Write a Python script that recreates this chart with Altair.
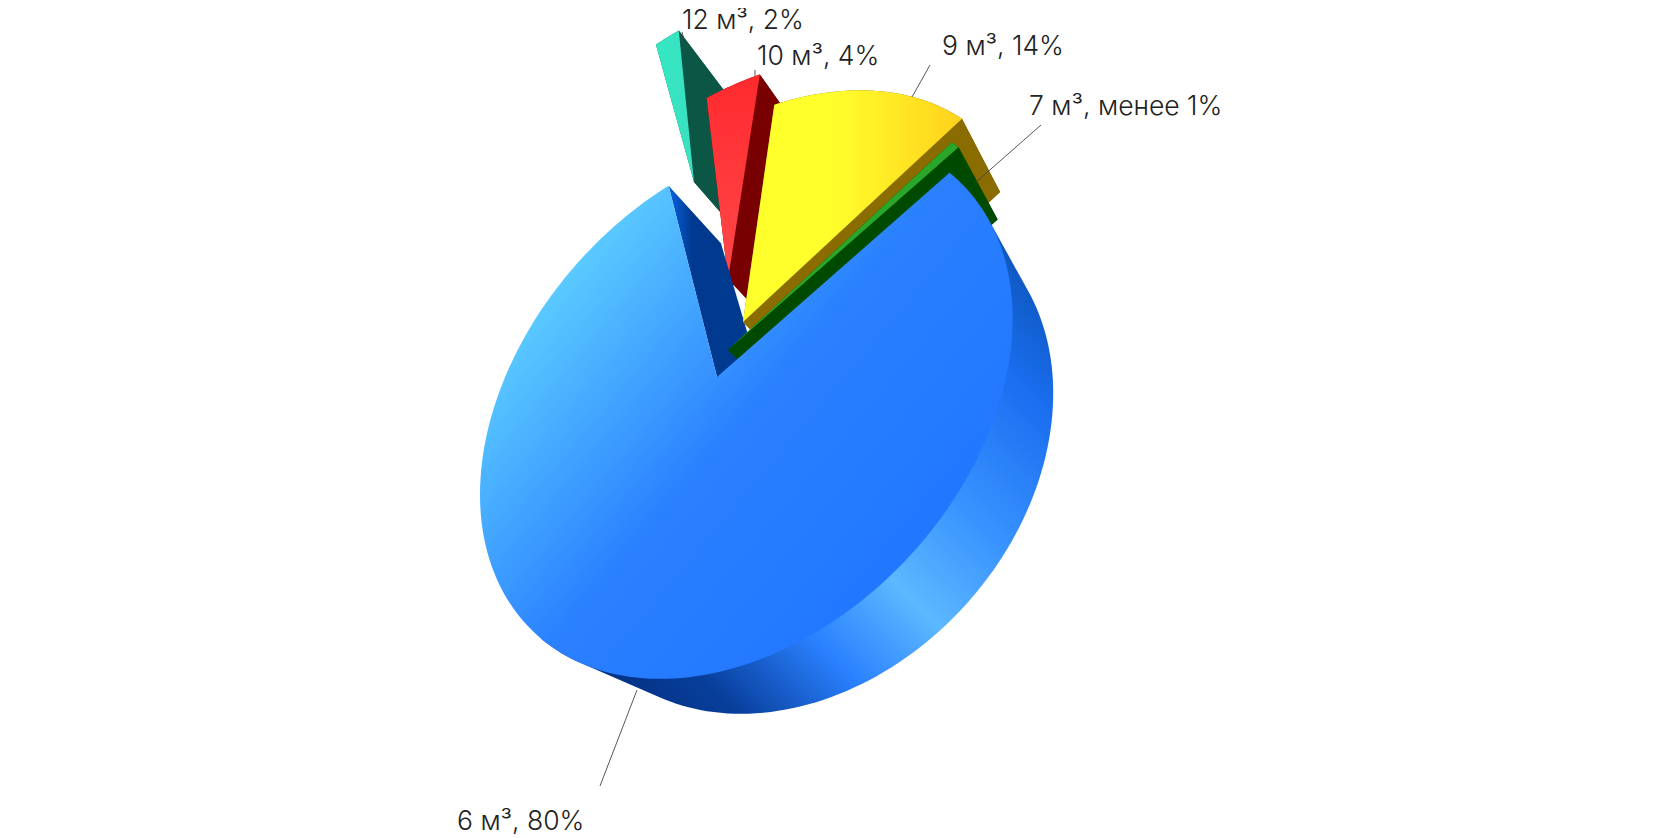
import numpy as np
import pandas as pd
import altair as alt

# ---- chart values
categories = ["6 м³", "12 м³", "10 м³", "9 м³", "7 м³"]
shares = [80, 2, 4, 14, 0.6]
label_texts = ["6 м³, 80%", "12 м³, 2%", "10 м³, 4%", "9 м³, 14%", "7 м³, менее 1%"]

# ---- view of the pie: an ellipse seen in perspective
CENTER = np.array([746.3, 404.5])
MAJOR, MINOR = 310.0, 221.5
U = np.array([0.682, -0.731])
V = np.array([0.731, 0.682])
MAIN_HUB = np.array([717.0, 375.0])
START_EDGE = np.array([947.0, 173.0])
VANISH = np.array([1440.0, 1034.0])
hubs = {"6 м³": MAIN_HUB, "12 м³": np.array([694.0, 180.0]), "10 м³": np.array([728.0, 277.0]),
        "9 м³": np.array([743.0, 320.0]), "7 м³": np.array([728.0, 348.0])}
reach = {"6 м³": 1.0, "12 м³": 0.95, "10 м³": 0.98, "9 м³": 0.985, "7 м³": 1.0}


def to_disc(p):
    d = np.asarray(p) - CENTER
    return np.array([d @ U / MAJOR, d @ V / MINOR])


def from_disc(q):
    return CENTER + q[0] * MAJOR * U + q[1] * MINOR * V


_p = to_disc(MAIN_HUB)
_r = np.hypot(*_p)
_n = _p / _r
_g = 1 / np.sqrt(1 - _r ** 2)
BOOST = np.eye(3)
BOOST[:2, :2] += (_g - 1) * np.outer(_n, _n)
BOOST[:2, 2] = _g * _r * _n
BOOST[2, :2] = _g * _r * _n
BOOST[2, 2] = _g
INV = np.linalg.inv(BOOST)


def to_image(pt):
    h = BOOST @ np.array([pt[0], pt[1], 1.0])
    return from_disc(h[:2] / h[2])


def to_plane(p):
    h = INV @ np.array([*to_disc(p), 1.0])
    return h[:2] / h[2]


def drop(p):
    k = 0.068 + 5.47e-5 * (p[0] - 668) + 6.15e-5 * (p[1] - 187)
    return p + k * (VANISH - p)


def arc(name, a0, a1):
    origin = to_plane(hubs[name])
    n = max(12, int(abs(a1 - a0) / np.pi * 120))
    r = reach[name]
    return [to_image(origin + r * np.array([np.cos(t), np.sin(t)])) for t in np.linspace(a0, a1, n)]


def hull(points):
    pts = sorted((float(p[0]), float(p[1])) for p in points)

    def half(seq):
        out = []
        for q in seq:
            while len(out) > 1 and ((out[-1][0] - out[-2][0]) * (q[1] - out[-2][1])
                                    - (out[-1][1] - out[-2][1]) * (q[0] - out[-2][0])) <= 0:
                out.pop()
            out.append(q)
        return out[:-1]

    return half(pts) + half(pts[::-1])


# angles of every slice, clockwise, from the shares
_s = to_plane(START_EDGE)
a = float(np.arctan2(_s[1], _s[0]))
total = sum(shares)
spans = {}
for c, s in zip(categories, shares):
    spans[c] = (a, a + 2 * np.pi * s / total)
    a = spans[c][1]


def frame(polys):
    rows = []
    for part, poly in enumerate(polys):
        for i, pt in enumerate(poly):
            rows.append({"px": float(pt[0]), "py": float(pt[1]), "part": part, "i": i})
    return pd.DataFrame(rows)


xs = alt.Scale(domain=[8, 1672], nice=False, zero=False)
ys = alt.Scale(domain=[830, 8], nice=False, zero=False)


def grad(stops, x1=0, y1=0, x2=1, y2=0):
    return alt.LinearGradient(
        gradient="linear", x1=x1, y1=y1, x2=x2, y2=y2,
        stops=[alt.GradientStop(offset=o, color=c) for o, c in stops])


def shape(polys, fill):
    return alt.Chart(frame(polys)).mark_line(fill=fill, strokeWidth=0, strokeOpacity=0).encode(
        x=alt.X("px:Q", scale=xs, axis=None),
        y=alt.Y("py:Q", scale=ys, axis=None),
        detail="part:N",
        order="i:Q",
    )


def top(name):
    return [[hubs[name], *arc(name, *spans[name])]]


def body(name):
    ar = arc(name, *spans[name])
    hub = hubs[name]
    low = [drop(p) for p in ar]
    return [
        [hub, ar[0], low[0], drop(hub)],
        [hub, ar[-1], low[-1], drop(hub)],
        [drop(hub), *low],
        ar + low[::-1],
    ]


layers = []
layers.append(shape(body("12 м³"), "#0c5646"))
layers.append(shape(top("12 м³"), grad([(0, "#35e8c4"), (1, "#3ae0c0")])))
layers.append(shape(body("10 м³"), "#780000"))
layers.append(shape(top("10 м³"), grad([(0, "#ff2a2e"), (1, "#ff4848")], 0, 0, 0, 1)))

main_arc = arc("6 м³", *spans["6 м³"])
# outer wall: the swept body of the arc part that faces the viewer
_lo = np.array([540.0, 630.0])
_dir = _lo - START_EDGE
facing = [p for p in main_arc
          if _dir[0] * (p[1] - START_EDGE[1]) - _dir[1] * (p[0] - START_EDGE[0]) <= 1e-6]
side = hull(facing + [drop(p) for p in facing])
layers.append(shape([side], grad(
    [(0, "#002a78"), (0.16, "#083f9c"), (0.32, "#2a80ff"), (0.47, "#5cb8ff"),
     (0.62, "#3a94ff"), (0.82, "#1a6ef0"), (1, "#0a4fae")], 0.1, 1, 0.95, 0.1)))

wall = [main_arc[-1], drop(main_arc[-1]), drop(MAIN_HUB), MAIN_HUB]
layers.append(shape([wall], grad([(0, "#0a62e0"), (0.22, "#00398f"), (1, "#003c90")])))

layers.append(shape(body("9 м³"), "#8a6c00"))
layers.append(shape(top("9 м³"), grad([(0, "#ffff2c"), (0.4, "#ffff2c"), (1, "#ffd11c")])))

layers.append(shape(body("7 м³"), "#004a00"))
layers.append(shape(top("7 м³"), "#2aa62a"))

layers.append(shape(top("6 м³"), grad(
    [(0, "#68deff"), (0.58, "#2a80ff"), (1, "#2277ff")], 0.05, 0.15, 0.8, 0.75)))

# ---- labels and leaders
label_df = pd.DataFrame({
    "text": label_texts,
    "px": [457, 682, 757, 942, 1029],
    "py": [828, 27, 63, 53, 113],
})
leader_df = pd.DataFrame({
    "px": [600, 682, 755, 930, 1041],
    "py": [784, 30, 68, 63, 123],
    "px2": [637, 684, 755, 912, 975],
    "py2": [688, 38, 74, 95, 181],
})
layers.append(alt.Chart(leader_df).mark_rule(color="#444444", strokeWidth=0.9).encode(
    x=alt.X("px:Q", scale=xs, axis=None), x2="px2:Q",
    y=alt.Y("py:Q", scale=ys, axis=None), y2="py2:Q"))
layers.append(alt.Chart(label_df).mark_text(
    align="left", baseline="alphabetic", font="Inter", fontSize=26.5, fontWeight=300, color="#222222"
).encode(
    x=alt.X("px:Q", scale=xs, axis=None),
    y=alt.Y("py:Q", scale=ys, axis=None),
    text="text:N"))

chart = alt.layer(*layers).properties(width=1664, height=822, padding=0).configure_view(stroke=None)
chart.save("out.html", embed_options={"renderer": "svg", "actions": False})
